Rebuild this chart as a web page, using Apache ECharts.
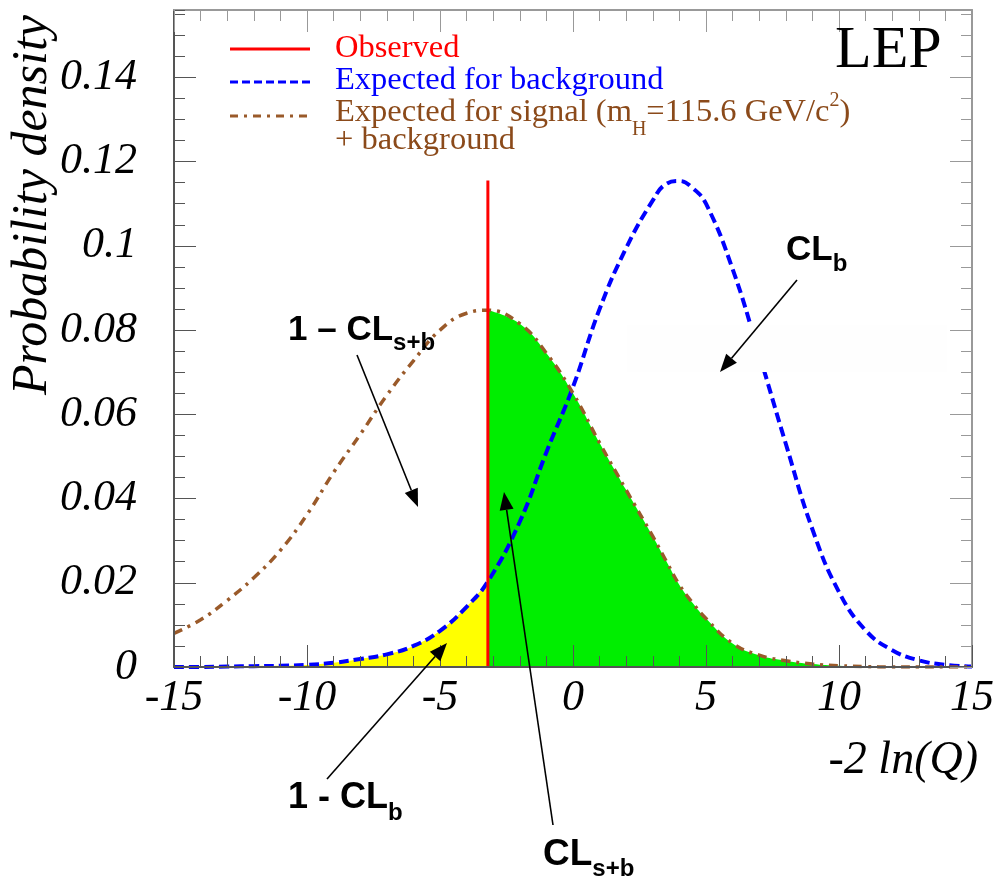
<!DOCTYPE html>
<html><head><meta charset="utf-8">
<script src="https://cdn.jsdelivr.net/npm/echarts@6/dist/echarts.min.js"></script>
<style>html,body{margin:0;padding:0;background:#fff}#c{width:997px;height:880px}</style>
</head><body><div id="c"></div>
<script>
// ---- data ----
const xValues  = [-15,-14,-13,-12,-11,-10,-9,-8,-7,-6,-5,-4,-3.2,-2,-1,0,1,2,3,3.5,4,4.5,5,6,7,8,9,10,11,12,13,14,15];
const bgValues = [0.0000,0.0000,0.0001,0.0002,0.0003,0.0005,0.0010,0.0019,0.0030,0.0050,0.0086,0.0143,0.0203,0.0345,0.0510,0.0665,0.0850,0.0995,0.1108,0.1147,0.1154,0.1137,0.1100,0.0945,0.0742,0.0530,0.0327,0.0178,0.0087,0.0040,0.0016,0.0005,0.0001];
const sbValues = [0.0080,0.0112,0.0158,0.0212,0.0277,0.0362,0.0462,0.0552,0.0645,0.0727,0.0800,0.0840,0.0847,0.0815,0.0745,0.0650,0.0532,0.0420,0.0310,0.0252,0.0195,0.0152,0.0115,0.0056,0.0028,0.0015,0.0007,0.0003,0.0001,0.0000,0.0000,0.0000,0.0000];
const observedX = -3.2;
const observedTop = 0.1155;
const xAxisRange = [-15, 15];
const xMajorStep = 5;
const yAxisRange = [0, 0.156];
const yMajorStep = 0.02;
const yMinorStep = 0.005;

// ---- helpers ----
const SERIF = '"Liberation Serif", "Times New Roman", serif';
const SANS = '"Liberation Sans", Arial, sans-serif';
const cv = document.createElement('canvas').getContext('2d');
function fontStr(p){ return (p.style||'normal')+' '+(p.weight||'normal')+' '+p.size+'px '+p.family; }
function measure(parts){ let w=0; parts.forEach(p=>{cv.font=fontStr(p); w+=cv.measureText(p.text).width;}); return w; }
function run(x, base, parts){
  const out=[]; let cx=x;
  parts.forEach(p=>{
    const f=fontStr(p); cv.font=f;
    const w=cv.measureText(p.text).width;
    out.push({type:'text', x:cx, y:base+(p.dy||0)-0.34*p.size, z:30, silent:true,
      style:{text:p.text, fill:p.color||'#000', font:f, align:'left', verticalAlign:'middle'}});
    cx+=w;
  });
  return out;
}
function arrow(x1,y1,x2,y2){
  const dx=x2-x1, dy=y2-y1, L=Math.hypot(dx,dy), ux=dx/L, uy=dy/L;
  const hl=18, hw=7;
  const bx=x2-ux*hl, by=y2-uy*hl;
  return [
    {type:'line', z:30, silent:true, shape:{x1:x1,y1:y1,x2:bx,y2:by}, style:{stroke:'#000',lineWidth:1.6}},
    {type:'polygon', z:30, silent:true, shape:{points:[[x2,y2],[bx-uy*hw,by+ux*hw],[bx+uy*hw,by-ux*hw]]}, style:{fill:'#000'}}
  ];
}

const bgData = xValues.map((x,i)=>[x,bgValues[i]]);
const sbData = xValues.map((x,i)=>[x,sbValues[i]]);
const yellowData = bgData.filter(d=>d[0]<=observedX);
const greenData = sbData.filter(d=>d[0]>=observedX);

const BROWN = '#9a5a2a';
const BROWN_TXT = '#8b4a1a';
const SMOOTH = 0.45;

const leg = (t,c)=>({text:t,size:32.5,family:SERIF,color:c});
const legSmall = (t,c,dy)=>({text:t,size:20,family:SERIF,color:c,dy:dy});
const bold = (t,s)=>({text:t,size:s,family:SANS,weight:'bold'});
const sub = (t,dy)=>({text:t,size:24,family:SANS,weight:'bold',dy:dy});

const xnameParts = [{text:'-2 ln(Q)', size:46, family:SERIF, style:'italic'}];

let graphics = [];
// faint white patch (present in the reference)
graphics.push({type:'rect', z:4, silent:true, shape:{x:627,y:325,width:320,height:47}, style:{fill:'#fefefe'}});
// legend
graphics.push({type:'line', z:30, shape:{x1:230,y1:49,x2:310,y2:49}, style:{stroke:'#ff0000',lineWidth:3}});
graphics.push({type:'line', z:30, shape:{x1:230,y1:82,x2:310,y2:82}, style:{stroke:'#0000ff',lineWidth:3,lineDash:[8,4]}});
graphics.push({type:'line', z:30, shape:{x1:230,y1:116,x2:310,y2:116}, style:{stroke:BROWN,lineWidth:3,lineDash:[8,6,3,6]}});
graphics = graphics.concat(
  run(335,60,[leg('Observed','#ff0000')]),
  run(335,92,[leg('Expected for background','#0000ff')]),
  run(335,124,[leg('Expected for signal (m',BROWN_TXT), legSmall('H',BROWN_TXT,13), leg('=115.6 GeV/c',BROWN_TXT), legSmall('2',BROWN_TXT,-16), leg(')',BROWN_TXT)]),
  run(335,152,[leg('+ background',BROWN_TXT)]),
  run(835,72,[{text:'LEP',size:60,family:SERIF}]),
  run(978-measure(xnameParts),777,xnameParts),
  // annotations
  run(288,342,[bold('1 – CL',35), sub('s+b',10)]),
  run(786,262,[bold('CL',35), sub('b',11)]),
  run(288,810,[bold('1 - CL',36), sub('b',12)]),
  run(543,867,[bold('CL',37), sub('s+b',11)]),
  arrow(357,355,418,507),
  arrow(797,280,720,372),
  arrow(327,779,447,643),
  arrow(553,825,504,492)
);
graphics.push({type:'text', x:33, y:205, rotation:Math.PI/2, z:30, silent:true,
  style:{text:'Probability density', font:'italic 50px '+SERIF, fill:'#000', align:'center', verticalAlign:'middle'}});

const DARK='#555', LIGHT='#999';
const labelFont = {fontFamily:SERIF, fontStyle:'italic', fontSize:44, color:'#000'};

function xAx(pos, col, labels){
  return {type:'value', position:pos, min:xAxisRange[0], max:xAxisRange[1], interval:xMajorStep, z:5,
    axisLine:{show:true, onZero:false, lineStyle:{color:col,width:2}},
    axisTick:{show:true, inside:true, length:22, lineStyle:{color:col,width:1}},
    minorTick:{show:true, splitNumber:5, length:11, lineStyle:{color:col,width:1}},
    splitLine:{show:false}, minorSplitLine:{show:false},
    axisLabel: labels ? Object.assign({margin:9}, labelFont) : {show:false}};
}
function yAx(pos, col, step, len, labels, line){
  return {type:'value', position:pos, min:yAxisRange[0], max:yAxisRange[1], interval:step, z:5,
    axisLine:{show:line, onZero:false, lineStyle:{color:col,width:2}},
    axisTick:{show:true, inside:true, length:len, lineStyle:{color:col,width:1}},
    splitLine:{show:false},
    axisLabel: labels ? Object.assign({margin:37, showMaxLabel:false}, labelFont) : {show:false}};
}

const chart = echarts.init(document.getElementById('c'), null, {renderer:'canvas'});
chart.setOption({
  animation:false,
  backgroundColor:'#fff',
  grid:{left:174, right:24, top:10, bottom:213, containLabel:false},
  xAxis:[ xAx('bottom',DARK,true), xAx('top',LIGHT,false) ],
  yAxis:[ yAx('left',DARK,yMajorStep,22,true,true), yAx('left',DARK,yMinorStep,11,false,false),
          yAx('right',LIGHT,yMajorStep,22,false,true), yAx('right',LIGHT,yMinorStep,11,false,false) ],
  series:[
    {type:'line', data:yellowData, smooth:SMOOTH, showSymbol:false, silent:true, z:1,
     lineStyle:{width:0}, areaStyle:{color:'#ffff00',opacity:1}},
    {type:'line', data:greenData, smooth:SMOOTH, showSymbol:false, silent:true, z:1,
     lineStyle:{width:0}, areaStyle:{color:'#00ee00',opacity:1}},
    {type:'line', name:'Expected for background', data:bgData, smooth:SMOOTH, showSymbol:false, silent:true, z:3,
     lineStyle:{color:'#0000ff', width:4, type:[10,5]}},
    {type:'line', name:'Expected for signal + background', data:sbData, smooth:SMOOTH, showSymbol:false, silent:true, z:3,
     lineStyle:{color:BROWN, width:3.5, type:[9,6,3,6]}},
    {type:'line', name:'Observed', data:[[observedX,0],[observedX,observedTop]], showSymbol:false, silent:true, z:4,
     lineStyle:{color:'#ff0000', width:3}}
  ],
  graphic: graphics
});
</script></body></html>
